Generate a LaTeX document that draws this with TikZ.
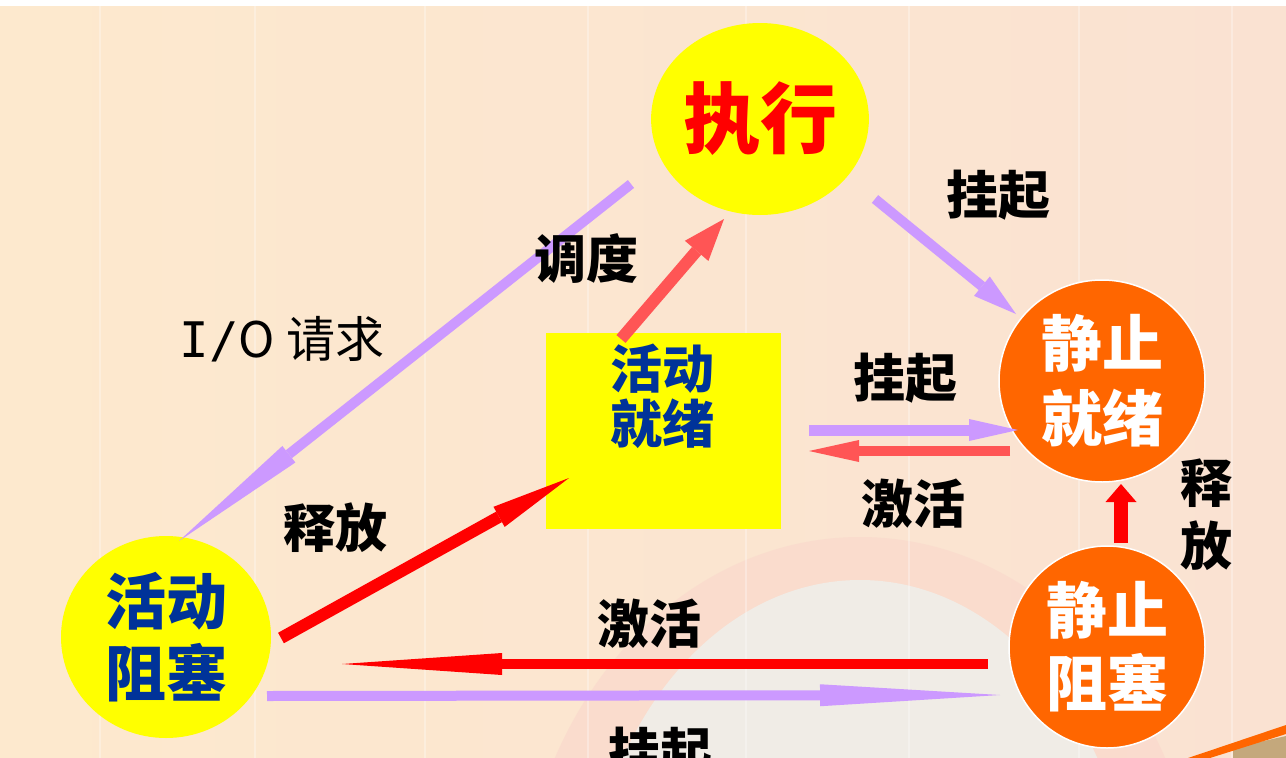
\documentclass[tikz,border=0pt]{standalone}
\usepackage{fontspec}
\newfontfamily\cjk{Noto Sans CJK SC}
\newfontfamily\latmono{DejaVu Sans Mono}
\usetikzlibrary{arrows.meta,shapes.geometric}
\definecolor{bgA}{RGB}{253,233,206}
\definecolor{bgB}{RGB}{250,226,210}
\definecolor{bandc}{RGB}{250,216,204}
\definecolor{innerc}{RGB}{240,236,230}
\definecolor{ylw}{RGB}{255,255,0}
\definecolor{org}{RGB}{255,102,0}
\definecolor{prp}{RGB}{204,153,255}
\definecolor{lred}{RGB}{255,85,85}
\definecolor{dred}{RGB}{255,0,0}
\definecolor{dblue}{RGB}{0,51,153}
\definecolor{tan}{RGB}{196,168,124}
\tikzset{
  lbl/.style={font=\cjk\bfseries\fontsize{52}{55}\selectfont, text=black, inner sep=0pt},
  state/.style={ellipse, inner sep=0pt, align=center},
  purp/.style={draw=prp, line width=10pt},
  redl/.style={draw=lred, line width=11pt},
  redd/.style={draw=dred, line width=11pt},
}
\begin{document}
\begin{tikzpicture}[x=1pt,y=-1pt]
\useasboundingbox (0,0) rectangle (1286,758);
\clip (0,0) rectangle (1286,758);
% background
\fill[left color=bgA, right color=bgB] (0,0) rectangle (1286,758);
\fill[bandc, opacity=0.65] (860,940) ellipse [x radius=342, y radius=403];
\fill[innerc] (860,940) ellipse [x radius=275, y radius=360];
\foreach \xx in {100,255,425,588,746,909,1079,1232}
  \draw[white, opacity=0.3, line width=1.5pt] (\xx,6) -- (\xx,758);
\fill[white] (0,0) rectangle (1286,6);
\fill[tan] (1233,758) -- (1233,748) -- (1286,736) -- (1286,758) -- cycle;
\fill[org] (1188,758) -- (1286,725) -- (1286,734) -- (1210,758) -- cycle;

% states
\node[state, fill=ylw, minimum width=208pt, minimum height=192pt,
      font=\cjk\bfseries\fontsize{77}{80}\selectfont, text=dred] (zx) at (760,119) {执行};
\node[fill=ylw, minimum width=235pt, minimum height=196pt, anchor=north west] (hj) at (546,333) {};
\node[font=\cjk\bfseries\fontsize{52}{55}\selectfont, text=dblue, align=center, inner sep=0pt] (hjt) at (662,396) {活动\\就绪};
\node[state, fill=org, draw=white, line width=1.5pt, minimum width=206pt, minimum height=202pt,
      font=\cjk\bfseries\fontsize{61}{75}\selectfont, text=white] (jj) at (1102,381) {静止\\就绪};
\node[state, fill=org, draw=white, line width=1.5pt, minimum width=196pt, minimum height=202pt,
      font=\cjk\bfseries\fontsize{61}{73}\selectfont, text=white] (jz) at (1107,647) {静止\\阻塞};
\node[state, fill=ylw, minimum width=210pt, minimum height=202pt,
      font=\cjk\bfseries\fontsize{61}{72}\selectfont, text=dblue] (hz) at (166,637) {活动\\阻塞};

% connector end points
\coordinate (ioS) at (631,184);  \coordinate (ioE) at (179,541);
\coordinate (ddS) at (621,339);  \coordinate (ddE) at (724,219);
\coordinate (g1S) at (875,199);  \coordinate (g1E) at (1016,314);
\coordinate (g2S) at (809,430);  \coordinate (g2E) at (1018,430);
\coordinate (j1S) at (1010,451); \coordinate (j1E) at (809,451);
\coordinate (s2S) at (1121,543); \coordinate (s2E) at (1121,484);
\coordinate (s1S) at (281,638);  \coordinate (s1E) at (569,478);
\coordinate (j2S) at (988,664);  \coordinate (j2E) at (342,664);
\coordinate (g3S) at (267,696);  \coordinate (g3E) at (1000,695);

% connectors
\draw[purp, -{Triangle[length=140pt,width=21pt,line width=0pt]}] (ioS) -- (ioE);
\draw[redl, line width=12pt, -{Triangle[length=42pt,width=31pt,line width=0pt]}] (ddS) -- (ddE);
\draw[purp, -{Triangle[length=44pt,width=25pt,line width=0pt]}] (g1S) -- (g1E);
\draw[purp, line width=11pt, -{Triangle[length=49pt,width=22pt,line width=0pt]}] (g2S) -- (g2E);
\draw[redl, line width=10pt, -{Triangle[length=50pt,width=22pt,line width=0pt]}] (j1S) -- (j1E);
\draw[redd, line width=14pt, -{Triangle[length=18pt,width=31pt,line width=0pt]}] (s2S) -- (s2E);
\draw[redd, line width=12pt, -{Triangle[length=80pt,width=23pt,line width=0pt]}] (s1S) -- (s1E);
\draw[redd, line width=10pt, -{Triangle[length=160pt,width=22pt,line width=0pt]}] (j2S) -- (j2E);
\draw[purp, -{Triangle[length=180pt,width=22pt,line width=0pt]}] (g3S) -- (g3E);

% labels
\node[lbl] (L1) at (586,259) {调度};
\node[lbl, font=\cjk\fontsize{49}{50}\selectfont] (L2) at (282,339) {{\latmono I/}O 请求};
\node[lbl] (L3) at (998,195) {挂起};
\node[lbl] (L4) at (905,378) {挂起};
\node[lbl] (L5) at (913,504) {激活};
\node[lbl, align=center, font=\cjk\bfseries\fontsize{52}{63}\selectfont] (L6) at (1206,515) {释\\放};
\node[lbl] (L7) at (335,528) {释放};
\node[lbl] (L8) at (649,624) {激活};
\node[lbl] (L9) at (660,752) {挂起};
\end{tikzpicture}
\end{document}
